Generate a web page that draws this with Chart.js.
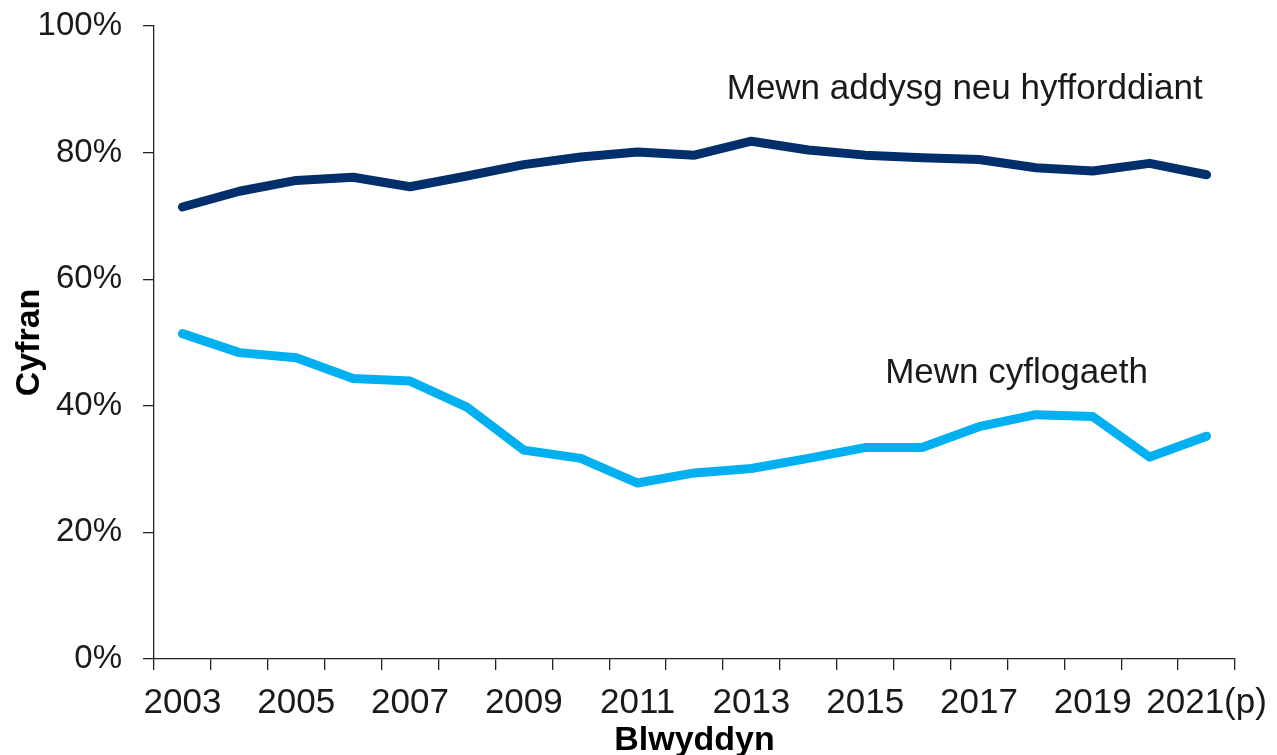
<!DOCTYPE html>
<html>
<head>
<meta charset="utf-8">
<script src="https://cdn.jsdelivr.net/npm/chart.js@4"></script>
<style>
  html, body { margin: 0; padding: 0; background: #ffffff; }
  #wrap { width: 1277px; height: 755px; position: relative; }
</style>
</head>
<body>
<div id="wrap"><canvas id="c" width="1277" height="755"></canvas></div>
<script>
const years = ['2003','2004','2005','2006','2007','2008','2009','2010','2011','2012',
               '2013','2014','2015','2016','2017','2018','2019','2020','2021(p)'];
const educationTraining = [71.4, 73.9, 75.6, 76.1, 74.6, 76.3, 78.1, 79.3, 80.1, 79.6,
                           81.8, 80.4, 79.6, 79.2, 78.9, 77.6, 77.1, 78.3, 76.5];
const employment = [51.4, 48.4, 47.6, 44.3, 43.9, 39.8, 33.0, 31.7, 27.8, 29.4,
                    30.1, 31.7, 33.4, 33.4, 36.7, 38.6, 38.3, 31.9, 35.2];
const yTicks = [0, 20, 40, 60, 80, 100];
const seriesLabels = ['Mewn addysg neu hyfforddiant', 'Mewn cyflogaeth'];
const labelAnchorIndex = [13.75, 14.66];
const labelAnchorValue = [88.5, 43.6];
const yTitle = 'Cyfran';
const xTitle = 'Blwyddyn';

const FONT = "'Liberation Sans', Arial, sans-serif";

const labelPlugin = {
  id: 'labels',
  afterDatasetsDraw(chart) {
    const ctx = chart.ctx;
    const xs = chart.scales.x, ys = chart.scales.y;
    const ca = chart.chartArea;
    ctx.save();
    ctx.fillStyle = '#1a1a1a';
    ctx.font = '35px ' + FONT;
    ctx.textAlign = 'center';
    ctx.textBaseline = 'alphabetic';
    seriesLabels.forEach((t, i) => {
      ctx.fillText(t, xs.getPixelForValue(labelAnchorIndex[i]), ys.getPixelForValue(labelAnchorValue[i]));
    });
    // axis titles
    ctx.fillStyle = '#000';
    ctx.font = 'bold 34px ' + FONT;
    ctx.textBaseline = 'middle';
    ctx.fillText(xTitle, (ca.left + ca.right) / 2, 741);
    ctx.translate(30, (ca.top + ca.bottom) / 2);
    ctx.rotate(-Math.PI / 2);
    ctx.fillText(yTitle, 0, 0);
    ctx.restore();
  }
};

new Chart(document.getElementById('c'), {
  type: 'line',
  data: {
    labels: years,
    datasets: [
      {
        label: seriesLabels[0],
        data: educationTraining,
        borderColor: '#002f6c',
        borderWidth: 9,
        borderCapStyle: 'round',
        borderJoinStyle: 'round',
        pointRadius: 0,
        tension: 0,
        fill: false
      },
      {
        label: seriesLabels[1],
        data: employment,
        borderColor: '#00b0f0',
        borderWidth: 9,
        borderCapStyle: 'round',
        borderJoinStyle: 'round',
        pointRadius: 0,
        tension: 0,
        fill: false
      }
    ]
  },
  options: {
    responsive: false,
    animation: false,
    devicePixelRatio: 1,
    layout: { padding: { left: 0, right: 42, top: 26, bottom: 0 } },
    plugins: {
      legend: { display: false },
      tooltip: { enabled: false }
    },
    scales: {
      x: {
        type: 'category',
        offset: true,
        grid: {
          offset: true,
          drawOnChartArea: false,
          drawTicks: true,
          tickLength: 11,
          color: '#222',
          lineWidth: 1.3
        },
        border: { display: true, color: '#222', width: 1.3 },
        ticks: {
          autoSkip: false,
          maxRotation: 0,
          minRotation: 0,
          padding: 12,
          color: '#1a1a1a',
          font: { family: FONT, size: 35 },
          callback: function (v, i) { return i % 2 === 0 ? years[i] : ''; }
        },
        afterFit(s) { s.height = 96; s.paddingLeft = 0; s.paddingRight = 0; }
      },
      y: {
        min: 0,
        max: 100,
        afterBuildTicks(s) { s.ticks = yTicks.map(v => ({ value: v })); },
        grid: {
          drawOnChartArea: false,
          drawTicks: true,
          tickLength: 11,
          color: '#222',
          lineWidth: 1.3
        },
        border: { display: true, color: '#222', width: 1.3 },
        ticks: {
          padding: 21,
          color: '#1a1a1a',
          font: { family: FONT, size: 33 },
          callback: function (v) { return v + '%'; }
        },
        afterFit(s) { s.width = 154; s.paddingTop = 0; s.paddingBottom = 0; }
      }
    }
  },
  plugins: [labelPlugin]
});
</script>
</body>
</html>
